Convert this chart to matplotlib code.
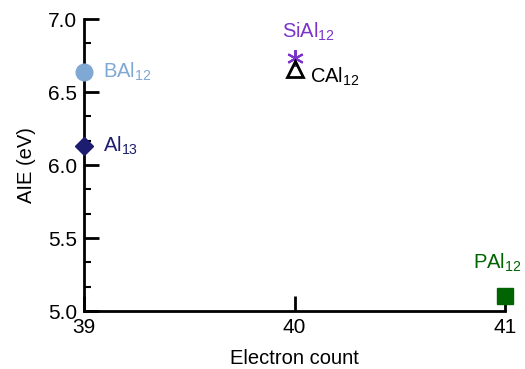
import matplotlib
matplotlib.use('Agg')
import matplotlib.pyplot as plt
from matplotlib.ticker import MultipleLocator, AutoMinorLocator

plt.rcParams['font.family'] = ['Liberation Sans', 'DejaVu Sans']
plt.rcParams['mathtext.default'] = 'regular'

names = [r'BAl$_{12}$', r'Al$_{13}$', r'SiAl$_{12}$', r'CAl$_{12}$', r'PAl$_{12}$']
electrons = [39, 39, 40, 40, 41]
aie = [6.64, 6.13, 6.73, 6.66, 5.10]
colors = ['#80a8d4', '#1c1c70', '#7a35c9', '#000000', '#006400']
markers = ['o', 'D', '*', '^', 's']
offsets = [(14, 0), (14, 0), (-9, 15), (11, -10), (-23, 20)]

fig = plt.figure(figsize=(5.25, 3.69), dpi=100)
ax = fig.add_axes([0.16, 0.157, 0.802, 0.7915])

for i in range(len(names)):
    m = markers[i]
    if m == '^':
        ax.plot(electrons[i], aie[i], m, mfc='none', mec=colors[i], mew=2,
                ms=11, clip_on=False, zorder=3)
    elif m == '*':
        ax.plot(electrons[i], aie[i], marker=(6, 2, 0), color=colors[i], mew=1.5,
                ms=12, clip_on=False, zorder=3, ls='none')
    elif m == 'D':
        ax.plot(electrons[i], aie[i], m, color=colors[i], ms=9, clip_on=False, zorder=3)
    else:
        ax.plot(electrons[i], aie[i], m, color=colors[i], ms=12 if m == 'o' else 11,
                clip_on=False, zorder=3)
    va = 'center' if offsets[i][1] == 0 else 'baseline'
    ax.annotate(names[i], (electrons[i], aie[i]), xytext=offsets[i],
                textcoords='offset points', color=colors[i], fontsize=14.5,
                ha='left', va=va)

ax.set_xlim(39, 41)
ax.set_ylim(5.0, 7.0)
ax.set_xticks([39, 40, 41])
ax.yaxis.set_major_locator(MultipleLocator(0.5))
ax.yaxis.set_minor_locator(AutoMinorLocator(3))
ax.spines['top'].set_visible(False)
ax.spines['right'].set_visible(False)
ax.spines['left'].set_linewidth(2)
ax.spines['bottom'].set_linewidth(2)
ax.tick_params(which='major', direction='in', length=11, width=2, labelsize=15, pad=5)
ax.tick_params(which='minor', direction='in', length=5, width=1.5)
ax.set_xlabel('Electron count', fontsize=14.5)
ax.set_ylabel('AIE (eV)', fontsize=14.5)
ax.xaxis.set_label_coords(0.5, -0.13)
ax.yaxis.set_label_coords(-0.115, 0.5)

fig.savefig('out.png', dpi=100)
